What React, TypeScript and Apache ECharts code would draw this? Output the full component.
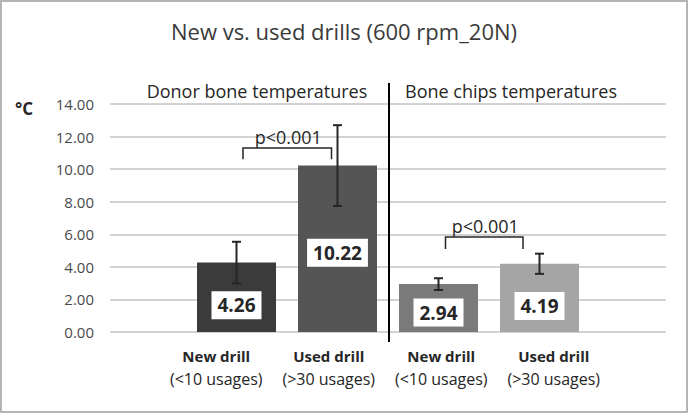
import React, { useEffect, useRef } from "react";
import * as echarts from "echarts";

// ---- data ----
const drillNames = ["New drill", "Used drill", "New drill", "Used drill"];
const usageNotes = ["(<10 usages)", "(>30 usages)", "(<10 usages)", "(>30 usages)"];
const meanTemps = [4.26, 10.22, 2.94, 4.19];
const sdTemps = [1.28, 2.48, 0.36, 0.62];
const groupTitles = ["Donor bone temperatures", "Bone chips temperatures"];
// comparisons: [fromIndex, toIndex, bracketTop, bracketLegBottom]
const comparisons = [
  [0, 1, 11.3, 10.6],
  [2, 3, 5.83, 5.1],
];
const pValues = ["p<0.001", "p<0.001"];
const yTicks = { min: 0, max: 14, interval: 2 };

// ---- styles ----
const FONT = "'Open Sans', 'Noto Sans', sans-serif";
const barColors = ["#3b3b3b", "#555555", "#7a7a7a", "#a5a5a5"];
const labelOffsets = [8, 4, 4.5, 8];
const bracketInsets = [
  [6.5, 6],
  [7, 16.5],
];
const INK = "#262626";

export default function App() {
  const ref = useRef<HTMLDivElement>(null);
  useEffect(() => {
    if (!ref.current) return;
    const chart = echarts.init(ref.current, undefined, { renderer: "svg" });
    const option: any = {
      animation: false,
      backgroundColor: "#ffffff",
      title: {
        text: "New vs. used drills (600 rpm_20N)",
        left: "center",
        top: 15,
        textStyle: { fontFamily: FONT, fontSize: 22, fontWeight: "normal", color: "#3a3a3a" },
      },
      grid: [
        { left: 110, right: 22, top: 104, bottom: 82 },
        { left: 186, right: 98, top: 104, bottom: 82 },
        { left: 160, right: 78, top: 104, bottom: 82 },
      ],
      xAxis: [
        { gridIndex: 0, type: "value", min: 0, max: 1, show: false },
        {
          gridIndex: 1,
          type: "category",
          data: drillNames,
          axisLine: { show: false },
          axisTick: { show: false },
          axisLabel: { show: false },
        },
        {
          gridIndex: 2,
          type: "category",
          data: drillNames.map((n, i) => n + "|" + usageNotes[i]),
          axisLine: { show: false },
          axisTick: { show: false },
          axisLabel: {
            margin: 13,
            interval: 0,
            formatter: (v: string) => {
              const [a, b] = v.split("|");
              return "{b|" + a + "}\n{n|" + b + "}";
            },
            rich: {
              b: { fontFamily: FONT, fontWeight: "bold", fontSize: 15, lineHeight: 22, color: INK },
              n: { fontFamily: FONT, fontSize: 16, lineHeight: 23, color: INK },
            },
          },
        },
      ],
      yAxis: [
        {
          gridIndex: 0,
          type: "value",
          min: yTicks.min,
          max: yTicks.max,
          interval: yTicks.interval,
          axisLine: { show: false },
          axisTick: { show: false },
          axisLabel: {
            margin: 16,
            fontFamily: FONT,
            fontSize: 15,
            color: "#4a4a4a",
            formatter: (v: number) => v.toFixed(2),
          },
          splitLine: { lineStyle: { color: "#c3c3c3", width: 1.5 } },
        },
        { gridIndex: 1, type: "value", min: yTicks.min, max: yTicks.max, show: false },
        { gridIndex: 2, type: "value", min: yTicks.min, max: yTicks.max, show: false },
      ],
      series: [
        {
          type: "bar",
          xAxisIndex: 1,
          yAxisIndex: 1,
          barWidth: 79,
          data: meanTemps.map((v, i) => ({
            value: v,
            itemStyle: { color: barColors[i] },
            label: { offset: [0, labelOffsets[i]] },
          })),
          label: {
            show: true,
            position: "inside",
            formatter: (p: any) => Number(p.value).toFixed(2),
            backgroundColor: "#ffffff",
            padding: [5, 6, 4, 6],
            fontFamily: FONT,
            fontSize: 19,
            fontWeight: "bold",
            color: INK,
          },
          z: 2,
        },
        {
          type: "custom",
          xAxisIndex: 1,
          yAxisIndex: 1,
          data: meanTemps.map((m, i) => [i, m, sdTemps[i]]),
          encode: { x: 0, y: 1 },
          z: 5,
          renderItem: (params: any, api: any) => {
            const i = api.value(0);
            const m = api.value(1);
            const e = api.value(2);
            const top = api.coord([i, m + e]);
            const bot = api.coord([i, m - e]);
            const x = top[0];
            const hw = 4.5;
            const st = { stroke: INK, lineWidth: 2 };
            return {
              type: "group",
              children: [
                { type: "line", shape: { x1: x, y1: top[1], x2: x, y2: bot[1] }, style: st },
                { type: "line", shape: { x1: x - hw, y1: top[1], x2: x + hw, y2: top[1] }, style: st },
                { type: "line", shape: { x1: x - hw, y1: bot[1], x2: x + hw, y2: bot[1] }, style: st },
              ],
            };
          },
        },
        {
          type: "custom",
          xAxisIndex: 1,
          yAxisIndex: 1,
          data: comparisons,
          encode: { x: [0, 1], y: [2, 3] },
          z: 5,
          renderItem: (params: any, api: any) => {
            const k = params.dataIndex;
            const a = api.coord([api.value(0), api.value(2)]);
            const b = api.coord([api.value(1), api.value(3)]);
            const x1 = a[0] + bracketInsets[k][0];
            const x2 = b[0] - bracketInsets[k][1];
            const yTop = a[1];
            const yLeg = b[1];
            return {
              type: "group",
              children: [
                {
                  type: "polyline",
                  shape: { points: [[x1, yLeg], [x1, yTop], [x2, yTop], [x2, yLeg]] },
                  style: { stroke: INK, lineWidth: 1.5, fill: "none" },
                },
                {
                  type: "text",
                  x: (x1 + x2) / 2 + 1,
                  y: yTop - 11,
                  style: {
                    text: pValues[k],
                    fontFamily: FONT,
                    fontSize: 18,
                    fill: INK,
                    align: "center",
                    verticalAlign: "middle",
                  },
                },
              ],
            };
          },
        },
      ],
      graphic: [
        {
          type: "rect",
          shape: { x: 1, y: 1, width: 686, height: 411 },
          style: { fill: "none", stroke: "#b4b4b4", lineWidth: 2 },
          silent: true,
        },
        {
          type: "text",
          x: 15,
          y: 108,
          style: { text: "°C", fontFamily: FONT, fontSize: 17, fontWeight: "bold", fill: INK, verticalAlign: "middle" },
        },
        {
          type: "text",
          x: 257,
          y: 91,
          style: { text: groupTitles[0], fontFamily: FONT, fontSize: 18, fill: INK, align: "center", verticalAlign: "middle" },
        },
        {
          type: "text",
          x: 511,
          y: 91,
          style: { text: groupTitles[1], fontFamily: FONT, fontSize: 18, fill: INK, align: "center", verticalAlign: "middle" },
        },
        {
          type: "line",
          shape: { x1: 389, y1: 83, x2: 389, y2: 342 },
          style: { stroke: "#000000", lineWidth: 2 },
          z: 10,
        },
      ],
    };
    chart.setOption(option);
    return () => chart.dispose();
  }, []);
  return (
    <div
      ref={ref}
      style={{ position: "fixed", left: 0, top: 0, width: 688, height: 414 }}
    />
  );
}
